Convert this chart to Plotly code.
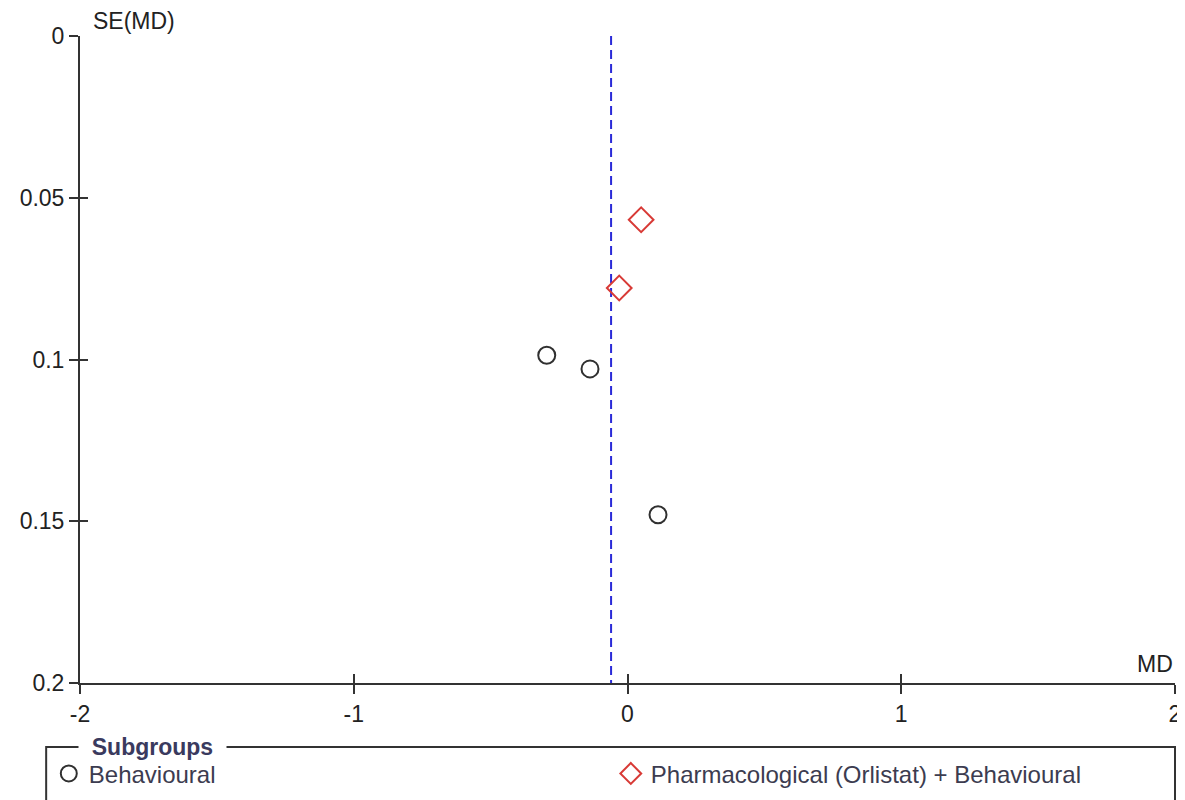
import plotly.graph_objects as go

# Data
behav_md = [-0.295, -0.137, 0.1115]
behav_se = [0.0987, 0.1029, 0.148]
pharm_md = [0.0498, -0.0302]
pharm_se = [0.0568, 0.0779]
pooled_md = -0.060
se_range = [0, 0.2]
x_ticks = [-2, -1, 0, 1, 2]
y_ticks = [0, 0.05, 0.1, 0.15, 0.2]
y_tick_text = ["0", "0.05", "0.1", "0.15", "0.2"]

FONT = "Liberation Sans, Arial, sans-serif"
AX = "#333333"
TXT = "#222222"
FS = 23

fig = go.Figure()

fig.add_trace(go.Scatter(
    x=[pooled_md, pooled_md], y=se_range, mode="lines",
    line=dict(color="#2a2ad8", width=2, dash="9px,5px"),
    showlegend=False, hoverinfo="skip"))

fig.add_trace(go.Scatter(
    x=behav_md, y=behav_se, mode="markers", name="Behavioural",
    marker=dict(symbol="circle-open", size=17, color="#303030",
                line=dict(width=2, color="#303030"))))

fig.add_trace(go.Scatter(
    x=pharm_md, y=pharm_se, mode="markers",
    name="Pharmacological (Orlistat) + Behavioural",
    marker=dict(symbol="diamond-open", size=19, color="#d83a36",
                line=dict(width=2, color="#d83a36"))))

# invisible trace to activate overlay axes for inside ticks
fig.add_trace(go.Scatter(x=[None], y=[None], xaxis="x2", yaxis="y2",
                         showlegend=False, hoverinfo="skip"))

common_x = dict(range=[-2, 2], tickvals=x_ticks, showgrid=False, zeroline=False)
common_y = dict(range=[0.2, 0], tickvals=y_ticks, showgrid=False, zeroline=False)

fig.update_layout(
    width=1185, height=800,
    margin=dict(l=69, r=15, t=28, b=124),
    paper_bgcolor="white", plot_bgcolor="white",
    font=dict(family=FONT, size=FS, color=TXT),
    xaxis=dict(**common_x, ticktext=[str(v) for v in x_ticks],
               showline=True, linecolor=AX, linewidth=2,
               ticks="outside", ticklen=9, tickwidth=2, tickcolor=AX,
               tickfont=dict(size=FS, color=TXT)),
    yaxis=dict(**common_y, ticktext=y_tick_text,
               showline=True, linecolor=AX, linewidth=2,
               ticks="outside", ticklen=9, tickwidth=2, tickcolor=AX,
               tickfont=dict(size=FS, color=TXT)),
    xaxis2=dict(**common_x, overlaying="x", anchor="y", showticklabels=False,
                ticks="inside", ticklen=9, tickwidth=2, tickcolor=AX, side="bottom"),
    yaxis2=dict(**common_y, overlaying="y", anchor="x", showticklabels=False,
                ticks="inside", ticklen=8, tickwidth=2, tickcolor=AX, side="left"),
    showlegend=True,
    legend=dict(orientation="h", x=-0.0285, xanchor="left", y=-0.1404, yanchor="middle",
                entrywidth=517, entrywidthmode="pixels",
                font=dict(size=24, color="#3c3c50", family=FONT),
                bgcolor="rgba(0,0,0,0)", itemsizing="trace"),
)

# axis titles as annotations
fig.add_annotation(text="SE(MD)", xref="paper", yref="paper", x=0.01, y=1.0231,
                   xanchor="left", yanchor="middle", showarrow=False,
                   font=dict(size=FS, color=TXT))
fig.add_annotation(text="MD", xref="paper", yref="paper", x=1.0, y=0.0293,
                   xanchor="right", yanchor="middle", showarrow=False,
                   font=dict(size=FS, color=TXT))

# legend frame with title breaking the top border
fig.add_shape(type="rect", xref="paper", yref="paper",
              x0=-0.0309, x1=1.0, y0=-0.25, y1=-0.0988,
              line=dict(color=AX, width=2), fillcolor="rgba(0,0,0,0)")
fig.add_annotation(text="&nbsp;&nbsp;<b>Subgroups</b>&nbsp;&nbsp;", xref="paper", yref="paper",
                   x=0.0663, y=-0.0988, xanchor="center", yanchor="middle",
                   showarrow=False, bgcolor="white", borderpad=0,
                   font=dict(size=FS, color="#3a3a5e"))

fig.write_html("out.html")
